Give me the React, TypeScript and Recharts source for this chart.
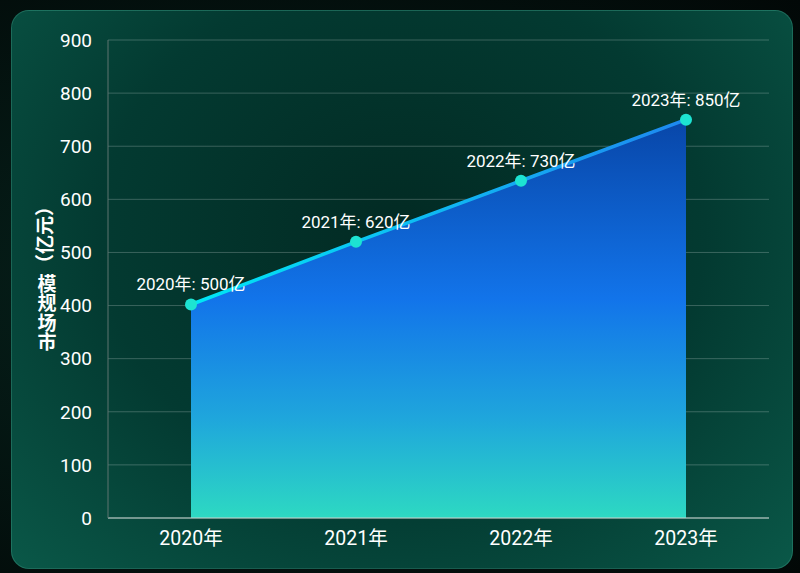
import { ComposedChart, Area, XAxis, YAxis, CartesianGrid, LabelList } from 'recharts';

const years = ['2020年', '2021年', '2022年', '2023年'];
const marketValues = [402, 520, 635, 750];
const labelValues = [500, 620, 730, 850];
const yTicks = [0, 100, 200, 300, 400, 500, 600, 700, 800, 900];
const axisTitleUnit = '（亿元）';
const axisTitleName = '模规场市';

const data = years.map((year, i) => ({
  year,
  value: marketValues[i],
  label: `${year}: ${labelValues[i]}亿`,
}));

const FONT = "Roboto, 'Noto Sans CJK SC', sans-serif";

// y axis title: unit rotated, the name set upright top-to-bottom (as in the source image)
function AxisTitle(props: any) {
  const { viewBox } = props;
  const cx = 33;
  const midY = viewBox.y + viewBox.height / 2;
  const unitY = midY - 44;
  return (
    <g fontFamily={FONT} fontSize={19} fontWeight="bold" fill="#ffffff">
      <text
        x={cx}
        y={unitY}
        textAnchor="middle"
        dominantBaseline="central"
        transform={`rotate(-90, ${cx}, ${unitY})`}
      >
        {axisTitleUnit}
      </text>
      <text x={cx} y={midY - 5} style={{ writingMode: 'vertical-rl', letterSpacing: 0.5 }}>
        {axisTitleName}
      </text>
    </g>
  );
}

export default function App() {
  return (
    <div
      style={{
        width: 800,
        height: 573,
        background: 'radial-gradient(ellipse at 30% 50%, #06221c 0%, #020807 100%)',
        position: 'relative',
        fontFamily: FONT,
      }}
    >
      <style>{'body{margin:0;background:#000;}'}</style>
      <div
        style={{
          position: 'absolute',
          left: 11,
          top: 10,
          width: 782,
          height: 559,
          borderRadius: 18,
          overflow: 'hidden',
          border: '1px solid rgba(90, 200, 170, 0.25)',
          boxSizing: 'border-box',
          background:
            'radial-gradient(ellipse at 50% 40%, #022a23 0%, #033a31 55%, #0a5848 100%)',
        }}
      >
        <ComposedChart
          width={782}
          height={559}
          data={data}
          margin={{ top: 29, right: 25, bottom: 0, left: 0 }}
        >
          <defs>
            <linearGradient id="areaFill" x1="0" y1="0" x2="0" y2="1">
              <stop offset="0%" stopColor="#0846a8" />
              <stop offset="45%" stopColor="#1274ea" />
              <stop offset="75%" stopColor="#1fa6dc" />
              <stop offset="100%" stopColor="#2dd9c2" />
            </linearGradient>
            <linearGradient id="lineStroke" x1="0" y1="0" x2="1" y2="0">
              <stop offset="0%" stopColor="#00e8f5" />
              <stop offset="100%" stopColor="#1e88f0" />
            </linearGradient>
          </defs>
          <CartesianGrid vertical={false} stroke="rgba(255,255,255,0.22)" />
          <XAxis
            dataKey="year"
            height={52}
            padding={{ left: 83, right: 83 }}
            tickLine={false}
            tickMargin={7}
            axisLine={{ stroke: '#c8d4d0' }}
            tick={{ fill: '#ffffff', fontSize: 19.5, fontFamily: FONT }}
          />
          <YAxis
            width={96}
            domain={[0, 900]}
            ticks={yTicks}
            tickLine={false}
            tickMargin={10}
            axisLine={{ stroke: '#5f7570' }}
            tick={{ fill: '#ffffff', fontSize: 19, fontFamily: FONT }}
            label={<AxisTitle />}
          />
          <Area
            type="linear"
            dataKey="value"
            fill="url(#areaFill)"
            fillOpacity={1}
            stroke="url(#lineStroke)"
            strokeWidth={3.5}
            dot={{ r: 6, fill: '#1de3d2', stroke: 'none' }}
            activeDot={false}
            isAnimationActive={false}
          >
            <LabelList
              dataKey="label"
              position="top"
              offset={14}
              style={{ fill: '#ffffff', fontSize: 17, fontFamily: FONT }}
            />
          </Area>
        </ComposedChart>
      </div>
    </div>
  );
}
